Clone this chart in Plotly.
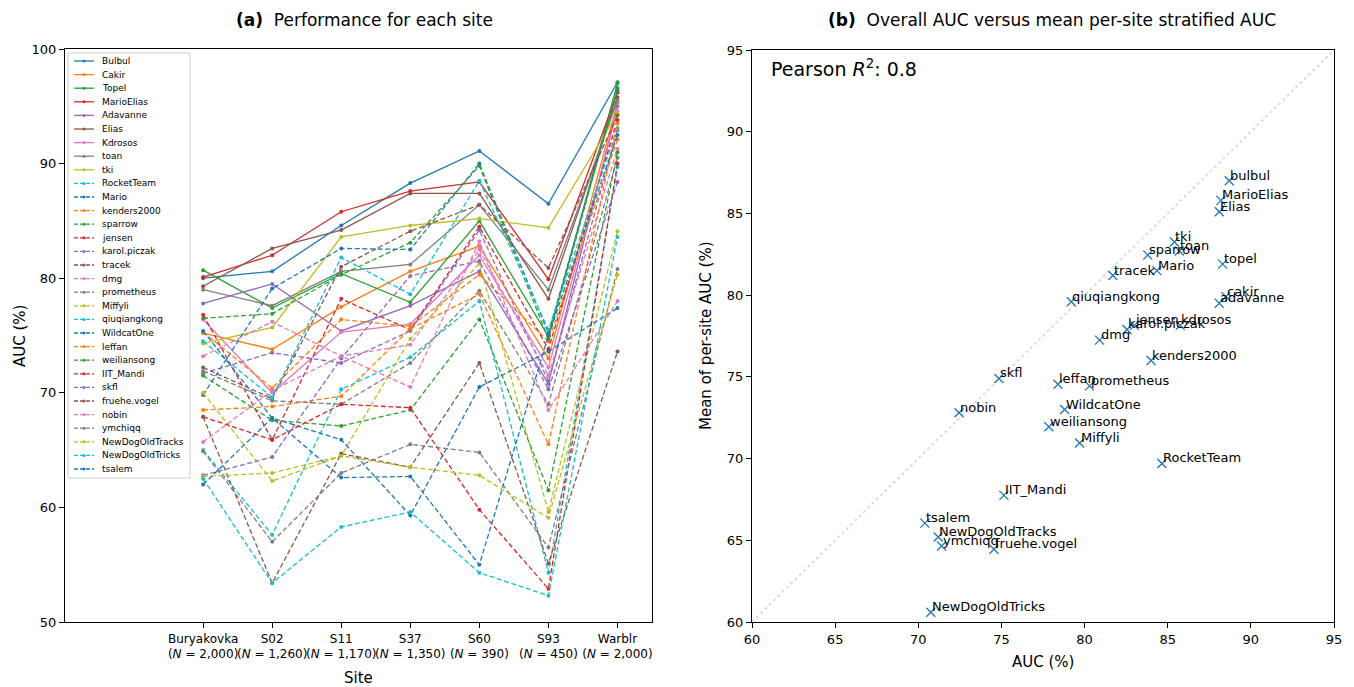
import plotly.graph_objects as go

# ---------------- data: panel (a) ----------------
sites = ["Buryakovka", "S02", "S11", "S37", "S60", "S93", "Warblr"]
site_n = ["2,000", "1,260", "1,170", "1,350", "390", "450", "2,000"]

team_names = ["Bulbul", "Cakir", "Topel", "MarioElias", "Adavanne", "Elias", "Kdrosos", "toan", "tki",
              "RocketTeam", "Mario", "kenders2000", "sparrow", "jensen", "karol.piczak", "tracek", "dmg",
              "prometheus", "Miffyli", "qiuqiangkong", "WildcatOne", "leffan", "weiliansong", "IIT_Mandi",
              "skfl", "fruehe.vogel", "nobin", "ymchiqq", "NewDogOldTracks", "NewDogOldTricks", "tsalem"]
n_solid = 9

Bulbul = [80.0, 80.6, 84.6, 88.3, 91.1, 86.5, 97.1]
Cakir = [75.2, 73.8, 77.5, 80.6, 82.8, 73.0, 95.3]
Topel = [80.7, 77.4, 80.4, 77.9, 85.0, 74.9, 97.0]
MarioElias = [80.1, 82.0, 85.8, 87.6, 88.4, 79.9, 96.2]
Adavanne = [77.8, 79.5, 75.4, 77.6, 80.6, 70.8, 95.0]
Elias = [79.3, 82.6, 84.2, 87.4, 87.4, 78.2, 95.8]
Kdrosos = [76.4, 70.0, 75.3, 76.0, 82.0, 72.2, 94.6]
toan = [79.0, 77.6, 80.6, 81.2, 86.4, 79.0, 95.5]
tki = [74.3, 75.7, 83.6, 84.6, 85.2, 84.4, 94.4]
RocketTeam = [65.0, 57.6, 70.3, 73.1, 78.0, 54.3, 89.7]
Mario = [69.8, 79.1, 82.6, 82.5, 90.0, 75.2, 96.4]
kenders2000 = [75.3, 70.4, 76.4, 75.8, 80.3, 74.5, 92.1]
sparrow = [76.5, 76.9, 80.3, 83.1, 89.8, 74.7, 96.6]
jensen = [76.8, 65.9, 78.2, 75.5, 84.5, 73.8, 93.8]
karol_piczak = [71.7, 73.5, 72.6, 75.4, 84.2, 71.0, 92.9]
tracek = [72.2, 69.5, 81.0, 84.1, 86.4, 80.9, 94.2]
dmg = [73.2, 76.2, 73.2, 74.2, 82.5, 71.5, 91.3]
prometheus = [71.9, 69.3, 69.0, 72.6, 78.9, 69.0, 90.5]
Miffyli = [70.0, 62.3, 64.5, 74.7, 81.3, 59.6, 84.1]
qiuqiangkong = [74.5, 69.6, 81.8, 78.6, 88.5, 75.5, 93.1]
WildcatOne = [75.4, 67.8, 65.9, 59.3, 70.5, 73.6, 77.4]
leffan = [68.5, 68.8, 69.7, 75.6, 78.6, 65.5, 93.5]
weiliansong = [71.5, 67.6, 67.1, 68.5, 76.4, 61.5, 91.0]
IIT_Mandi = [67.9, 65.9, 69.0, 68.7, 59.8, 52.9, 90.0]
skfl = [62.8, 64.4, 73.0, 80.2, 81.5, 70.3, 88.4]
fruehe_vogel = [67.9, 53.4, 64.7, 63.5, 72.6, 55.1, 73.6]
nobin = [65.7, 70.2, 73.2, 70.5, 83.2, 68.5, 78.0]
ymchiqq = [64.9, 57.0, 63.0, 65.5, 64.8, 56.5, 80.8]
NewDogOldTracks = [62.7, 63.0, 64.5, 63.5, 62.8, 59.1, 80.3]
NewDogOldTricks = [62.5, 53.4, 58.3, 59.6, 54.3, 52.3, 83.6]
tsalem = [62.0, 67.8, 62.6, 62.7, 55.0, 75.0, 92.5]

team_values = [Bulbul, Cakir, Topel, MarioElias, Adavanne, Elias, Kdrosos, toan, tki,
               RocketTeam, Mario, kenders2000, sparrow, jensen, karol_piczak, tracek, dmg,
               prometheus, Miffyli, qiuqiangkong, WildcatOne, leffan, weiliansong, IIT_Mandi,
               skfl, fruehe_vogel, nobin, ymchiqq, NewDogOldTracks, NewDogOldTricks, tsalem]

# ---------------- data: panel (b) ----------------
scatter_names = ["bulbul", "MarioElias", "Elias", "tki", "toan", "sparrow", "topel", "Mario", "tracek",
                 "qiuqiangkong", "cakir", "adavanne", "jensen", "kdrosos", "karol.piczak", "dmg",
                 "kenders2000", "skfl", "leffan", "prometheus", "nobin", "WildcatOne", "weiliansong",
                 "Miffyli", "RocketTeam", "IIT_Mandi", "tsalem", "NewDogOldTracks", "ymchiqq",
                 "fruehe.vogel", "NewDogOldTricks"]
overall_auc = [88.7, 88.2, 88.1, 85.4, 85.7, 83.8, 88.3, 84.35, 81.7,
               79.2, 88.5, 88.1, 83.0, 85.75, 82.55, 80.9,
               84.0, 74.85, 78.4, 80.3, 72.45, 78.8, 77.85,
               79.7, 84.65, 75.15, 70.4, 71.2, 71.4,
               74.55, 70.75]
mean_site_auc = [87.0, 85.8, 85.1, 83.25, 82.7, 82.45, 81.9, 81.5, 81.2,
                 79.6, 79.9, 79.5, 78.15, 78.15, 77.9, 77.25,
                 76.0, 74.9, 74.55, 74.45, 72.8, 73.0, 71.95,
                 70.95, 69.7, 67.75, 66.05, 65.2, 64.65,
                 64.45, 60.6]
pearson_r2 = 0.8

# ---------------- styling ----------------
PAGE_W, PAGE_H = 1354, 687
OFF = 8  # default page body margin
W, H = PAGE_W - OFF, PAGE_H - OFF
tab10 = ["#1f77b4", "#ff7f0e", "#2ca02c", "#d62728", "#9467bd",
         "#8c564b", "#e377c2", "#7f7f7f", "#bcbd22", "#17becf"]
FONT = "DejaVu Sans"

def px_x(p):
    return (p - OFF) / W

def px_y(p):
    return 1 - (p - OFF) / H

fig = go.Figure()

x_idx = list(range(len(sites)))
for i, (name, vals) in enumerate(zip(team_names, team_values)):
    col = tab10[i % 10]
    fig.add_trace(go.Scatter(
        x=x_idx, y=vals, mode="lines+markers", name=name,
        line=dict(color=col, width=1.3, dash="solid" if i < n_solid else "5px,2.6px"),
        marker=dict(color=col, size=4),
        xaxis="x", yaxis="y", showlegend=False,
    ))

# diagonal reference line (b)
b_range = [60, 95]
fig.add_trace(go.Scatter(
    x=b_range, y=b_range, mode="lines",
    line=dict(color="#dcdcdc", width=2, dash="dot"),
    xaxis="x2", yaxis="y2", showlegend=False, hoverinfo="skip",
))
fig.add_trace(go.Scatter(
    x=overall_auc, y=mean_site_auc, mode="markers",
    marker=dict(symbol="x-thin", size=9, color="#1f77b4", line=dict(width=1.3, color="#1f77b4")),
    xaxis="x2", yaxis="y2", showlegend=False,
))

annotations = []
for n, xv, yv in zip(scatter_names, overall_auc, mean_site_auc):
    annotations.append(dict(
        x=xv, y=yv, xref="x2", yref="y2", text=n, showarrow=False,
        xanchor="left", yanchor="bottom", yshift=-4, xshift=-1,
        font=dict(family=FONT, size=13, color="black"),
    ))

axis_common = dict(showline=True, mirror=True, linecolor="black", linewidth=1.2,
                   ticks="outside", ticklen=5, tickwidth=1.2, tickcolor="black",
                   showgrid=False, zeroline=False, automargin=False,
                   tickfont=dict(family=FONT, size=13, color="black"))

ticktext = [f"{s}<br>(<i>N</i> = {n})" for s, n in zip(sites, site_n)]

fig.update_layout(
    width=W, height=H,
    margin=dict(l=0, r=0, t=0, b=0),
    paper_bgcolor="white", plot_bgcolor="white",
    xaxis=dict(domain=[px_x(65), px_x(652)], range=[-2, 6.5], tickvals=x_idx,
               ticktext=ticktext, anchor="y", tickangle=0, **axis_common),
    yaxis=dict(domain=[px_y(622), px_y(49)], range=[50, 100], dtick=10,
               anchor="x", **axis_common),
    xaxis2=dict(domain=[px_x(752), px_x(1334)], range=b_range, dtick=5,
                anchor="y2", **axis_common),
    yaxis2=dict(domain=[px_y(622), px_y(50)], range=b_range, dtick=5,
                anchor="x2", **axis_common),
    showlegend=False,
    font=dict(family=FONT, color="black"),
)
fig.update_xaxes(tickfont=dict(family=FONT, size=12, color="black"), selector=dict(anchor="y"))

# titles and axis labels
annotations += [
    dict(x=px_x(364), y=px_y(20), xref="paper", yref="paper", showarrow=False,
         text="<b>(a)</b>  Performance for each site", font=dict(family=FONT, size=17),
         xanchor="center", yanchor="middle"),
    dict(x=px_x(1052), y=px_y(20), xref="paper", yref="paper", showarrow=False,
         text="<b>(b)</b>  Overall AUC versus mean per-site stratified AUC", font=dict(family=FONT, size=17),
         xanchor="center", yanchor="middle"),
    dict(x=px_x(20), y=px_y(336), xref="paper", yref="paper", showarrow=False,
         text="AUC (%)", textangle=-90, font=dict(family=FONT, size=15),
         xanchor="center", yanchor="middle"),
    dict(x=px_x(358), y=px_y(678), xref="paper", yref="paper", showarrow=False,
         text="Site", font=dict(family=FONT, size=15), xanchor="center", yanchor="middle"),
    dict(x=px_x(1043), y=px_y(662), xref="paper", yref="paper", showarrow=False,
         text="AUC (%)", font=dict(family=FONT, size=15), xanchor="center", yanchor="middle"),
    dict(x=px_x(706), y=px_y(336), xref="paper", yref="paper", showarrow=False,
         text="Mean of per-site AUC (%)", textangle=-90, font=dict(family=FONT, size=15),
         xanchor="center", yanchor="middle"),
    dict(x=px_x(769), y=px_y(68), xref="paper", yref="paper", showarrow=False,
         text=f"Pearson <i>R</i><sup>2</sup>: {pearson_r2}", font=dict(family=FONT, size=19),
         xanchor="left", yanchor="middle"),
]

# manual legend for panel (a)
shapes = [dict(type="rect", xref="paper", yref="paper",
               x0=px_x(68), x1=px_x(190), y0=px_y(478), y1=px_y(53),
               line=dict(color="#cccccc", width=1), fillcolor="white", layer="above")]
row0, row_step = 61.0, 13.6
for i, name in enumerate(team_names):
    col = tab10[i % 10]
    yy = px_y(row0 + i * row_step)
    shapes.append(dict(type="line", xref="paper", yref="paper",
                       x0=px_x(74), x1=px_x(94), y0=yy, y1=yy, layer="above",
                       line=dict(color=col, width=1.3, dash="solid" if i < n_solid else "4px,2px")))
    shapes.append(dict(type="circle", xref="paper", yref="paper",
                       x0=px_x(82.5), x1=px_x(85.5), y0=yy - 1.5 / H, y1=yy + 1.5 / H,
                       line=dict(color=col, width=0), fillcolor=col, layer="above"))
    annotations.append(dict(x=px_x(100), y=yy, xref="paper", yref="paper", showarrow=False,
                            text=name, font=dict(family=FONT, size=9, color="black"),
                            xanchor="left", yanchor="middle"))

fig.update_layout(annotations=annotations, shapes=shapes)
fig.write_html("out.html")
